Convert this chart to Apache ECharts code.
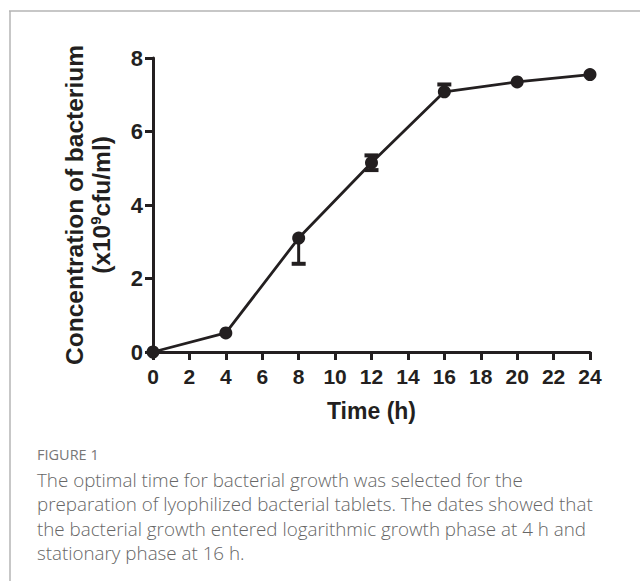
<!DOCTYPE html>
<html>
<head>
<meta charset="utf-8">
<script src="https://cdn.jsdelivr.net/npm/echarts@6/dist/echarts.min.js"></script>
<style>
  html, body { margin: 0; padding: 0; background: #fff; }
  #chart { width: 640px; height: 581px; }
</style>
</head>
<body>
<div id="chart"></div>
<script>
// Growth curve: time (h) vs. concentration (x10^9 cfu/ml)
const timeHours = [0, 4, 8, 12, 16, 20, 24];
const concentration = [0, 0.52, 3.1, 5.15, 7.08, 7.35, 7.55];
const errorBelow = [0, 0, 0.7, 0.2, 0, 0, 0];
const errorAbove = [0, 0, 0, 0.2, 0.2, 0, 0];
const xTicks = [0, 2, 4, 6, 8, 10, 12, 14, 16, 18, 20, 22, 24];
const yTicks = [0, 2, 4, 6, 8];

const captionTitle = 'FIGURE 1';
const captionLines = [
  'The optimal time for bacterial growth was selected for the',
  'preparation of lyophilized bacterial tablets. The dates showed that',
  'the bacterial growth entered logarithmic growth phase at 4 h and',
  'stationary phase at 16 h.'
];

const ink = '#231f20';
const axisFont = 'Liberation Sans, Arial, sans-serif';

const points = timeHours.map((t, i) => [t, concentration[i]]);
const errorData = timeHours.map((t, i) => [t, concentration[i] - errorBelow[i], concentration[i] + errorAbove[i], errorBelow[i], errorAbove[i]]);

const chart = echarts.init(document.getElementById('chart'), null, { renderer: 'svg' });

const captionGraphics = [
  { type: 'text', left: 37, top: 447, style: { text: captionTitle, fontFamily: 'Open Sans', fontSize: 14.5, fill: '#777777' } },
  ...captionLines.map((line, i) => ({
    type: 'text', left: 37, top: 470 + i * 24.5,
    style: { text: line, fontFamily: 'Open Sans', fontWeight: 300, fontSize: 18.8, fill: '#666666' }
  }))
];

chart.setOption({
  animation: false,
  grid: { left: 153, right: 50, top: 58, bottom: 229, containLabel: false },
  xAxis: {
    type: 'value', min: 0, max: 24, interval: 2,
    name: 'Time (h)', nameLocation: 'middle', nameGap: 47,
    nameTextStyle: { fontFamily: axisFont, fontWeight: 'bold', fontSize: 23, color: ink },
    axisLine: { show: true, onZero: false, lineStyle: { color: ink, width: 3 } },
    axisTick: { show: true, inside: false, length: 8, lineStyle: { color: ink, width: 3 } },
    axisLabel: {
      margin: 14, fontFamily: axisFont, fontWeight: 'bold', fontSize: 21, color: ink,
      customValues: xTicks
    },
    splitLine: { show: false }
  },
  yAxis: {
    type: 'value', min: 0, max: 8, interval: 2,
    name: '{a|Concentration of bacterium}\n{a|(x10}{s|9}{a|cfu/ml)}',
    nameLocation: 'middle', nameRotate: 90, nameGap: 38,
    nameTextStyle: {
      rich: {
        a: { fontFamily: axisFont, fontWeight: 'bold', fontSize: 24.5, color: ink, lineHeight: 27 },
        s: { fontFamily: axisFont, fontWeight: 'bold', fontSize: 15, color: ink, lineHeight: 27, verticalAlign: 'top', padding: [0, 0, 9, 0] }
      }
    },
    axisLine: { show: true, onZero: false, lineStyle: { color: ink, width: 3 } },
    axisTick: { show: true, inside: false, length: 8, lineStyle: { color: ink, width: 3 } },
    axisLabel: { margin: 10, fontFamily: axisFont, fontWeight: 'bold', fontSize: 22, color: ink, customValues: yTicks },
    splitLine: { show: false }
  },
  graphic: [
    { type: 'line', shape: { x1: 9, y1: 11, x2: 640, y2: 11 }, style: { stroke: '#b5b5b5', lineWidth: 1.5 } },
    { type: 'line', shape: { x1: 10, y1: 11, x2: 10, y2: 581 }, style: { stroke: '#b5b5b5', lineWidth: 1.5 } },
    ...captionGraphics
  ],
  series: [
    {
      type: 'custom',
      data: errorData,
      z: 3,
      renderItem: function (params, api) {
        const x = api.value(0);
        const lo = api.coord([x, api.value(1)]);
        const hi = api.coord([x, api.value(2)]);
        const children = [
          { type: 'line', shape: { x1: lo[0], y1: lo[1], x2: hi[0], y2: hi[1] }, style: { stroke: ink, lineWidth: 3 } }
        ];
        const half = 7;
        if (api.value(3) > 0) {
          children.push({ type: 'line', shape: { x1: lo[0] - half, y1: lo[1], x2: lo[0] + half, y2: lo[1] }, style: { stroke: ink, lineWidth: 4 } });
        }
        if (api.value(4) > 0) {
          children.push({ type: 'line', shape: { x1: hi[0] - half, y1: hi[1], x2: hi[0] + half, y2: hi[1] }, style: { stroke: ink, lineWidth: 4 } });
        }
        return { type: 'group', children: children };
      }
    },
    {
      type: 'line',
      data: points,
      z: 4,
      symbol: 'circle',
      symbolSize: 13,
      showSymbol: true,
      itemStyle: { color: ink },
      lineStyle: { color: ink, width: 2.8 },
      clip: false
    }
  ]
});
</script>
</body>
</html>
